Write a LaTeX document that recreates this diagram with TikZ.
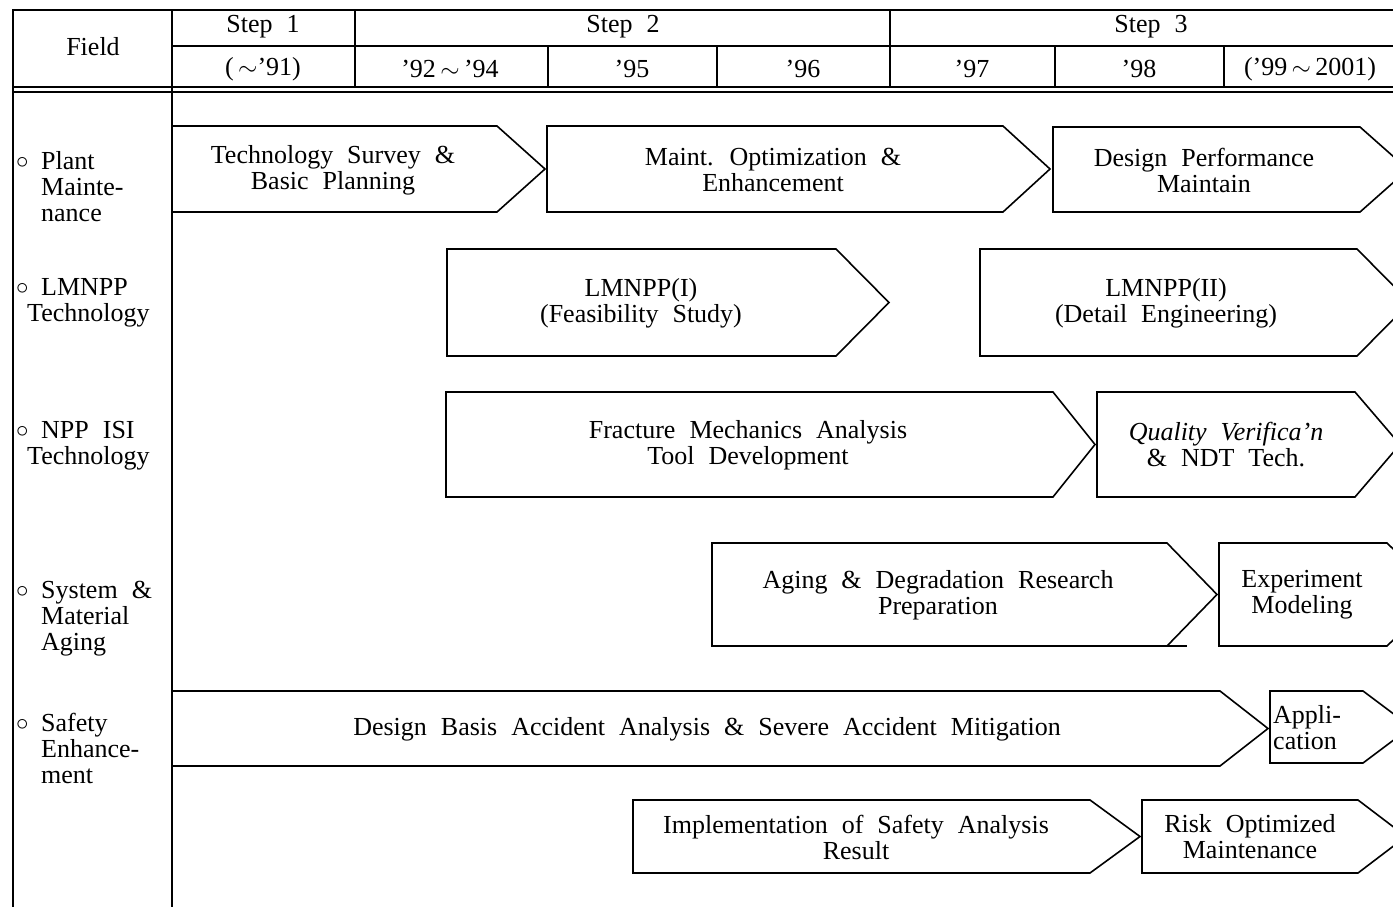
\documentclass[tikz,border=0pt]{standalone}
\usepackage{fontspec}
\setmainfont{Liberation Serif}
\usepackage{tikz}

\newcommand\chartfont{\fontsize{26}{26}\selectfont\spaceskip=14pt plus 3pt minus 3pt\relax}
\newcommand\fieldbul{\makebox[25pt][l]{\fontsize{24}{24}\selectfont\raisebox{1pt}{$\circ$}}}
% left, top, bottom, corner, tip
\newcommand\stagearrow[5]{%
  \draw[stageline] (#1,#2) -- (#4,#2) -- (#5,{(#2+#3)/2}) -- (#4,#3) -- (#1,#3) -- cycle;}

\begin{document}
\begin{tikzpicture}[x=1pt,y=-1pt,
    gridline/.style={line width=1.6pt},
    stageline/.style={line width=1.6pt, line join=miter}]
		\useasboundingbox (0,0) rectangle (1393,907);
		\clip (0,0) rectangle (1393,907);

		% table frame
		\draw[gridline] (13,907) -- (13,10) -- (1393,10);
		\draw[gridline] (172,10) -- (172,907);
		\draw[gridline] (172,46) -- (1393,46);
		\draw[gridline] (13,87) -- (1393,87);
		\draw[gridline] (13,92) -- (1393,92);
		\draw[gridline] (355,10) -- (355,87);
		\draw[gridline] (890,10) -- (890,87);
		\draw[gridline] (548,46) -- (548,87);
		\draw[gridline] (717,46) -- (717,87);
		\draw[gridline] (1055,46) -- (1055,87);
		\draw[gridline] (1224,46) -- (1224,87);

		% stage arrows
		\stagearrow{172}{126}{212}{497}{545}
		\stagearrow{547}{126}{212}{1003}{1050}
		\stagearrow{1053}{127}{212}{1360}{1408}
		\stagearrow{447}{249}{356}{836}{889}
		\stagearrow{980}{249}{356}{1357}{1410}
		\stagearrow{446}{392}{497}{1053}{1095}
		\stagearrow{1097}{392}{497}{1355}{1400}
		\stagearrow{712}{543}{646}{1167}{1217}
		\draw[stageline] (1167,646) -- (1187,646);
		\stagearrow{1219}{543}{646}{1387}{1440}
		\stagearrow{172}{691}{766}{1220}{1268}
		\stagearrow{1270}{691}{763}{1363}{1411}
		\stagearrow{633}{800}{873}{1090}{1140}
		\stagearrow{1142}{800}{873}{1358}{1406}

		\begin{scope}[every node/.style={font=\chartfont,inner sep=0pt,align=center}]
			% header
			\node (field) at (93,47) {Field};
			\node (step1) at (263,27) {Step 1};
			\node (step2) at (623,27) {Step 2};
			\node (step3) at (1151,27) {Step 3};
			\node (y91) at (263,69) {(\,$\sim$’91)};
			\node (y94) at (450,69) {’92\,$\sim$\,’94};
			\node (y95) at (632,69) {’95};
			\node (y96) at (803,69) {’96};
			\node (y97) at (972,69) {’97};
			\node (y98) at (1139,69) {’98};
			\node (y01) at (1310,69) {(’99\,$\sim$\,2001)};

			% fields
			\node[anchor=west,align=left] (plant) at (16,187)
				{\fieldbul Plant\\\hspace*{25pt}Mainte-\\\hspace*{25pt}nance};
			\node[anchor=west,align=left] (lmnpp) at (16,303)
				{\fieldbul LMNPP\\\hspace*{11pt}Technology};
			\node[anchor=west,align=left] (isi) at (16,446)
				{\fieldbul NPP ISI\\\hspace*{11pt}Technology};
			\node[anchor=west,align=left] (aging) at (16,619)
				{\fieldbul System \&\\\hspace*{25pt}Material\\\hspace*{25pt}Aging};
			\node[anchor=west,align=left] (safety) at (16,748)
				{\fieldbul Safety\\\hspace*{25pt}Enhance-\\\hspace*{25pt}ment};

			% stage texts
			\node (survey) at (333,170) {Technology Survey \&\\Basic Planning};
			\node (optim) at (773,170) {Maint. Optimization \&\\Enhancement};
			\node (perform) at (1204,170) {Design Performance\\Maintain};
			\node (feasib) at (641,303) {LMNPP(I)\\(Feasibility Study)};
			\node (detail) at (1166,303) {LMNPP(II)\\(Detail Engineering)};
			\node (fracture) at (748,445) {Fracture Mechanics Analysis\\Tool Development};
			\node (quality) at (1226,445) {\textit{Quality Verifica’n}\\\& NDT Tech.};
			\node (degrad) at (938,595) {Aging \& Degradation Research\\Preparation};
			\node (exper) at (1302,595) {Experiment\\Modeling};
			\node (dba) at (707,729) {Design Basis Accident Analysis \& Severe Accident Mitigation};
			\node[anchor=west,align=left] (appl) at (1273,728) {Appli-\\cation};
			\node (implem) at (856,837) {Implementation of Safety Analysis\\Result};
			\node (risk) at (1250,837) {Risk Optimized\\Maintenance};
		\end{scope}
\end{tikzpicture}
\end{document}
